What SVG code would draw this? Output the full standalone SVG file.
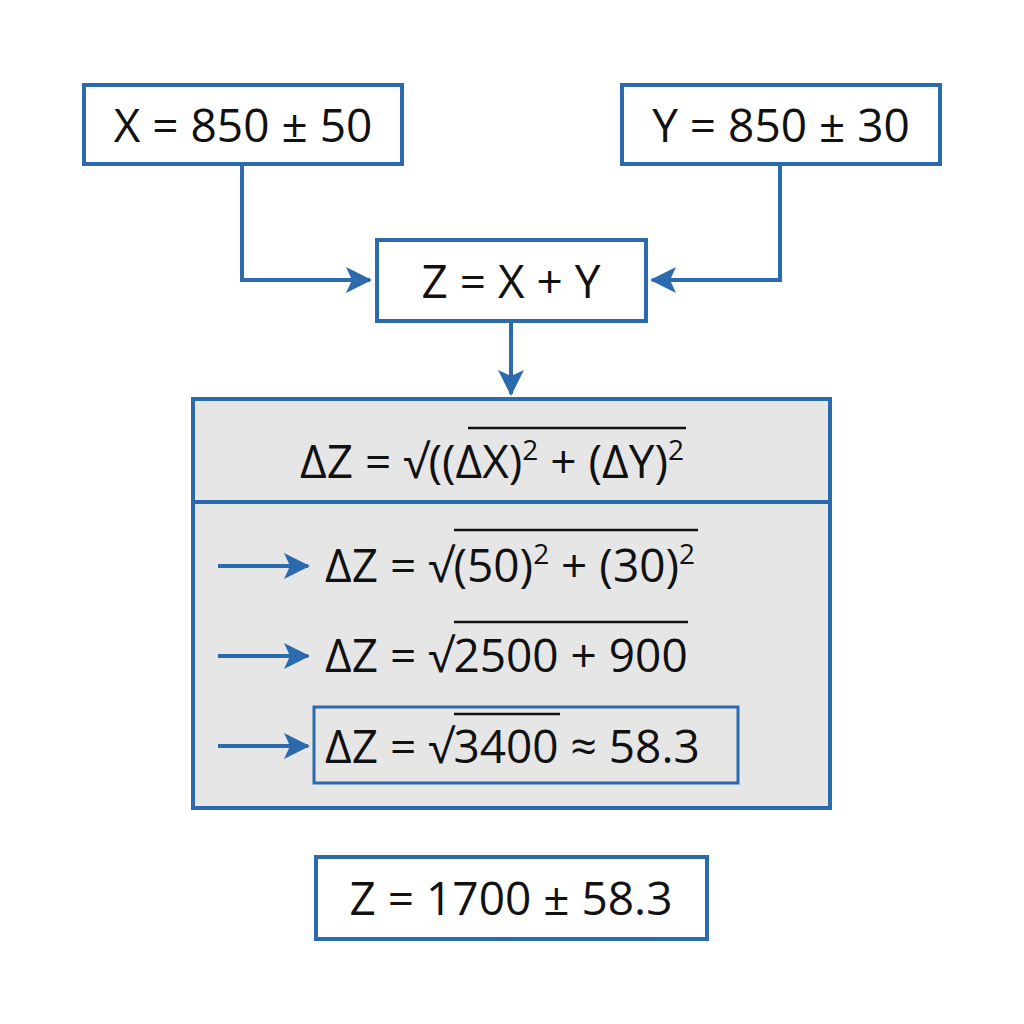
<svg xmlns="http://www.w3.org/2000/svg" width="1024" height="1024" viewBox="0 0 1024 1024">
<defs>
<style>
.box{fill:#fff;stroke:#2a6aad;stroke-width:4}
.t{font-family:"Open Sans","DejaVu Sans",sans-serif;font-size:46px;font-weight:500;fill:#111}
.c{stroke:#2a6aad;stroke-width:4;fill:none}
.ov{stroke:#111;stroke-width:2.5}
</style>
<marker id="b" markerWidth="26" markerHeight="26" refX="24" refY="13" orient="auto" markerUnits="userSpaceOnUse" viewBox="0 0 26 26"><path d="M0,0 L26,13 L0,26 L6,13 Z" fill="#2a6aad"/></marker>
</defs>
<rect width="1024" height="1024" fill="#fff"/>
<g id="nodeX"><rect class="box" x="84" y="85" width="318" height="79"/><text class="t" x="243" y="142" text-anchor="middle">X = 850 ± 50</text></g>
<g id="nodeY"><rect class="box" x="622" y="85" width="318" height="79"/><text class="t" x="781" y="142" text-anchor="middle">Y = 850 ± 30</text></g>
<g id="nodeZ"><rect class="box" x="377" y="240" width="269" height="81"/><text class="t" x="511" y="298" text-anchor="middle">Z = X + Y</text></g>
<g id="calc">
<rect x="193" y="399" width="637" height="409" fill="#e6e6e6" stroke="#2a6aad" stroke-width="4"/>
<line x1="193" y1="502" x2="830" y2="502" stroke="#2a6aad" stroke-width="4"/>
<text class="t" x="300" y="478">ΔZ = √((ΔX)<tspan font-size="28" dy="-18">2</tspan><tspan dy="18"> + (ΔY)</tspan><tspan font-size="28" dy="-18">2</tspan></text>
<line class="ov" x1="468" y1="428" x2="686" y2="428"/>
<text class="t" x="325" y="582">ΔZ = √(50)<tspan font-size="28" dy="-18">2</tspan><tspan dy="18"> + (30)</tspan><tspan font-size="28" dy="-18">2</tspan></text>
<line class="ov" x1="454" y1="530" x2="698" y2="530"/>
<text class="t" x="325" y="672">ΔZ = √2500 + 900</text>
<line class="ov" x1="454" y1="622" x2="688" y2="622"/>
<rect x="314" y="707" width="424" height="76" fill="none" stroke="#2a6aad" stroke-width="3"/>
<text class="t" x="325" y="763">ΔZ = √3400 ≈ 58.3</text>
<line class="ov" x1="454" y1="714" x2="560" y2="714"/>
</g>
<g id="result"><rect class="box" x="316" y="857" width="391" height="82"/><text class="t" x="511" y="915" text-anchor="middle">Z = 1700 ± 58.3</text></g>
<g id="connectors">
<path class="c" d="M242,164 V280 H370" marker-end="url(#b)"/>
<path class="c" d="M780,164 V280 H652" marker-end="url(#b)"/>
<path class="c" d="M511,321 V394" marker-end="url(#b)"/>
<path class="c" d="M218,566 H308" marker-end="url(#b)"/>
<path class="c" d="M218,656 H308" marker-end="url(#b)"/>
<path class="c" d="M218,746 H308" marker-end="url(#b)"/>
</g>
</svg>
